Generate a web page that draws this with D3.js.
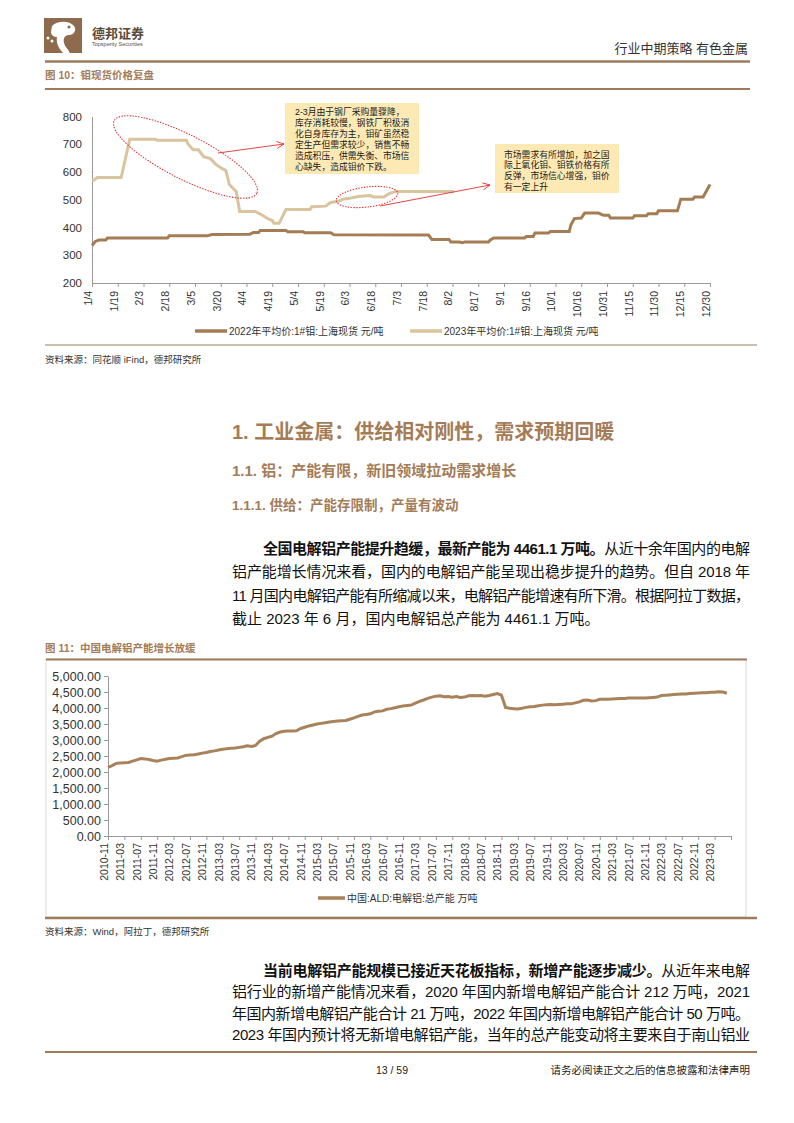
<!DOCTYPE html>
<html><head><meta charset="utf-8">
<script src="https://cdn.jsdelivr.net/npm/d3@7"></script>
<style>body{margin:0;background:#fff} svg{display:block}</style>
</head><body><svg id="page" width="794" height="1123"></svg>
<script>
// ---------- Figure 10 data ----------
const priceTickLabels = ["1/4","1/19","2/3","2/18","3/5","3/20","4/4","4/19","5/4","5/19","6/3","6/18","7/3","7/18","8/2","8/17","9/1","9/16","10/1","10/16","10/31","11/15","11/30","12/15","12/30"];
const priceYTicks = [200,300,400,500,600,700,800];
const price2022 = [
 ["1/4",335],["1/6",350],["1/8",355],["1/12",355],["1/13",362],["2/17",362],["2/18",370],["3/12",370],["3/15",375],
 ["4/6",376],["4/8",382],["4/11",382],["4/12",389],["4/27",389],["4/28",385],["5/7",385],["5/8",381],["5/23",381],
 ["5/25",374],["7/19",373],["7/21",357],["7/31",357],["8/1",348],["8/6",348],["8/8",345],["8/9",348],["8/23",348],
 ["8/24",355],["8/26",362],["9/13",362],["9/14",368],["9/18",368],["9/19",380],["9/27",380],["9/28",386],["10/9",386],
 ["10/10",410],["10/12",432],["10/16",434],["10/18",452],["10/26",452],["10/29",444],["11/1",444],["11/2",434],
 ["11/15",434],["11/16",442],["11/23",442],["11/24",450],["11/29",450],["11/30",460],["12/11",460],["12/13",502],
 ["12/20",502],["12/21",510],["12/26",510],["12/30",555]
];
const price2023 = [
 ["1/4",570],["1/5",570],["1/7",580],["1/21",580],["1/26",718],["2/10",718],["2/11",714],["2/28",714],["3/1",700],
 ["3/4",680],["3/7",680],["3/10",655],["3/14",648],["3/17",628],["3/20",615],["3/23",605],["3/25",555],["3/29",530],
 ["3/31",458],["4/9",458],["4/13",445],["4/17",430],["4/19",425],["4/20",415],["4/23",415],["4/25",440],["4/27",465],
 ["5/11",465],["5/12",475],["5/20",477],["5/23",490],["5/28",495],["5/30",502],["6/3",505],["6/8",512],["6/15",515],
 ["6/17",510],["6/23",510],["6/26",522],["6/30",530],["7/3",530],["8/3",530]
];
const priceSeriesNames = ["2022年平均价:1#钼:上海现货 元/吨","2023年平均价:1#钼:上海现货 元/吨"];

// ---------- Figure 11 data ----------
const capTickLabels = ["2010-11","2011-03","2011-07","2011-11","2012-03","2012-07","2012-11","2013-03","2013-07","2013-11","2014-03","2014-07","2014-11","2015-03","2015-07","2015-11","2016-03","2016-07","2016-11","2017-03","2017-07","2017-11","2018-03","2018-07","2018-11","2019-03","2019-07","2019-11","2020-03","2020-07","2020-11","2021-03","2021-07","2021-11","2022-03","2022-07","2022-11","2023-03"];
const capYTicks = [0,500,1000,1500,2000,2500,3000,3500,4000,4500,5000];
// monthly values from 2010-11 to 2023-06
const capacity = [
 2143,2200,2270,2280,2290,2300,2340,2380,2420,2410,2390,2360,2340,2370,2400,2420,2430,2440,2480,2520,
 2530,2540,2560,2590,2610,2640,2660,2690,2710,2730,2740,2750,2770,2790,2820,2800,2830,2960,3040,3080,
 3120,3200,3250,3270,3280,3280,3290,3360,3400,3440,3470,3500,3520,3540,3560,3580,3590,3600,3610,3650,
 3690,3740,3780,3800,3820,3880,3900,3910,3960,3980,4010,4040,4060,4080,4090,4150,4210,4250,4300,4340,
 4370,4380,4350,4360,4340,4360,4330,4340,4380,4390,4380,4390,4370,4390,4420,4450,4400,4020,3990,3980,
 3970,3990,4020,4040,4050,4070,4090,4100,4110,4100,4110,4120,4130,4130,4160,4190,4240,4250,4220,4230,
 4270,4270,4270,4280,4290,4300,4300,4310,4310,4310,4310,4310,4320,4330,4340,4390,4400,4410,4420,4430,
 4440,4440,4450,4460,4470,4480,4480,4490,4490,4510,4500,4461.1
];
const capSeriesName = "中国:ALD:电解铝:总产能 万吨";

// ---------- page ----------
const svg = d3.select("#page");
const BROWN = "#9E7B5B", HEAD = "#A47C57", LINE22 = "#A57D54", LINE23 = "#D8C49E", CAPC = "#A8825A";
const CJK = "'Liberation Sans','Noto Sans CJK SC',sans-serif";
svg.append("rect").attr("width",794).attr("height",1123).attr("fill","#fff");

function txt(x,y,s,size,opt={}){
  const t = svg.append("text").attr("x",x).attr("y",y).attr("font-size",size)
    .attr("font-family",CJK).attr("fill",opt.fill||"#222").text(s);
  if(opt.bold) t.attr("font-weight","bold");
  if(opt.anchor) t.attr("text-anchor",opt.anchor);
  return t;
}
function rule(y,x1,x2,w,c){svg.append("line").attr("x1",x1).attr("x2",x2).attr("y1",y).attr("y2",y).attr("stroke",c||BROWN).attr("stroke-width",w);}

// header logo
const logo = svg.append("g").attr("transform","translate(44,18)");
logo.append("rect").attr("width",38).attr("height",35).attr("fill","#8E6B4C");
logo.append("path").attr("d","M8,8 C14,2 26,3 30,8 C33,12 30,17 25,17 C21,17 19,20 20,25 C21,29 24,31 26,35 L19,35 C14,30 12,24 13,19 C10,19 7,17 7,14 Z").attr("fill","#fff");
logo.append("circle").attr("cx",4).attr("cy",20).attr("r",1.5).attr("fill","#fff");
logo.append("circle").attr("cx",8).attr("cy",23).attr("r",1.5).attr("fill","#fff");
logo.append("circle").attr("cx",25).attr("cy",9).attr("r",1.6).attr("fill","#8E6B4C");
txt(92,38,"德邦证券",13,{bold:true,fill:"#5a4a3c"});
txt(92,46,"Topsperity Securities",5.5,{fill:"#5a4a3c"});
txt(748,53,"行业中期策略  有色金属",13,{anchor:"end",fill:"#333"});
rule(61.5,45,750,2.5);

// Fig 10 title
txt(45,79,"图 10：钼现货价格复盘",10.5,{bold:true,fill:HEAD});
rule(89,45,750,2);

// ---------- Figure 10 chart ----------
const parseMD = s => d3.timeParse("%Y/%m/%d")("2022/"+s);
const x1 = d3.scaleTime().domain([parseMD("1/4"),parseMD("12/30")]).range([92,710]);
const y1 = d3.scaleLinear().domain([200,800]).range([283,116.5]);
const g1 = svg.append("g");
const xAx1 = g1.append("g").attr("transform","translate(0,283)")
  .call(d3.axisBottom(x1).tickValues(priceTickLabels.map(parseMD)).tickFormat((d,i)=>priceTickLabels[i]).tickSize(4).tickSizeOuter(0));
xAx1.selectAll("text").attr("transform","rotate(-90)").attr("text-anchor","end").attr("x",-8).attr("y",-4).attr("dy","0.32em")
  .attr("font-size",10.5).attr("font-family","'Liberation Sans',sans-serif").attr("fill","#333");
const yAx1 = g1.append("g").attr("transform","translate(92,0)")
  .call(d3.axisLeft(y1).tickValues(priceYTicks).tickSize(0).tickPadding(10).tickSizeOuter(0));
yAx1.selectAll("text").attr("font-size",11.5).attr("font-family","'Liberation Sans',sans-serif").attr("fill","#333");
[xAx1,yAx1].forEach(a=>{a.select(".domain").attr("stroke","#999");a.selectAll("line").attr("stroke","#999");});

const line1 = d3.line().x(d=>x1(parseMD(d[0]))).y(d=>y1(d[1]));
g1.append("path").datum(price2023).attr("d",line1).attr("fill","none").attr("stroke",LINE23).attr("stroke-width",3);
g1.append("path").datum(price2022).attr("d",line1).attr("fill","none").attr("stroke",LINE22).attr("stroke-width",3);

// annotations
const RED = "#E2302E";
g1.append("ellipse").attr("cx",185.5).attr("cy",157).attr("rx",80).attr("ry",22)
  .attr("transform","rotate(27,185.5,157)").attr("fill","none").attr("stroke",RED).attr("stroke-width",1.1).attr("stroke-dasharray","1.4,1.4");
g1.append("ellipse").attr("cx",367).attr("cy",197).attr("rx",31).attr("ry",10)
  .attr("transform","rotate(-7,367,197)").attr("fill","none").attr("stroke",RED).attr("stroke-width",1.1).attr("stroke-dasharray","1.4,1.4");
function arrow(xa,ya,xb,yb){
  const ang = Math.atan2(yb-ya,xb-xa), L=8, a=0.45;
  const p1=[xb-L*Math.cos(ang-a),yb-L*Math.sin(ang-a)], p2=[xb-L*Math.cos(ang+a),yb-L*Math.sin(ang+a)];
  g1.append("path").attr("d",`M${xa},${ya}L${xb},${yb}M${p1}L${xb},${yb}L${p2}`).attr("fill","none").attr("stroke",RED).attr("stroke-width",0.9);
}
arrow(218,153,284,144);
arrow(380,206,490,185);

const box1 = ["2-3月由于钢厂采购量骤降，","库存消耗较慢，钢铁厂积极消","化自身库存为主，钼矿虽然稳","定生产但需求较少，销售不畅","造成积压，供需失衡、市场信","心缺失，造成钼价下跌。"];
const box2 = ["市场需求有所增加，加之国","际上氧化钼、钼铁价格有所","反弹，市场信心增强，钼价","有一定上升"];
g1.append("rect").attr("x",285).attr("y",103).attr("width",134).attr("height",71).attr("fill","#FDE9B3");
box1.forEach((s,i)=>txt(295,115+i*10.9,s,8.8,{fill:"#222"}));
g1.append("rect").attr("x",495).attr("y",144).attr("width",124).attr("height",49).attr("fill","#FDE9B3");
box2.forEach((s,i)=>txt(504,157.5+i*10.7,s,8.8,{fill:"#222"}));

// legend 1
const leg1 = [[195,LINE22,priceSeriesNames[0]],[410,LINE23,priceSeriesNames[1]]];
leg1.forEach(([lx,c,s])=>{
  svg.append("line").attr("x1",lx).attr("x2",lx+32).attr("y1",331).attr("y2",331).attr("stroke",c).attr("stroke-width",3.5);
  txt(lx+34,335,s,10,{fill:"#333"});
});
rule(345,45,757,1.2);
txt(45,363,"资料来源：同花顺 iFind，德邦研究所",9.5,{fill:"#333"});

// ---------- headings & paragraphs ----------
txt(232,439,"1. 工业金属：供给相对刚性，需求预期回暖",20,{bold:true,fill:HEAD});
txt(232,476,"1.1. 铝：产能有限，新旧领域拉动需求增长",15,{bold:true,fill:HEAD});
txt(232,510,"1.1.1. 供给：产能存限制，产量有波动",13.5,{bold:true,fill:HEAD});

function para(lines,y0,lh){
  lines.forEach((ln,i)=>{
    const x = i===0?263:232;
    const t = svg.append("text").attr("x",x).attr("y",y0+i*lh).attr("font-size",15).attr("font-family",CJK).attr("fill","#111");
    ln.parts.forEach(p=>{const ts=t.append("tspan").text(p[0]); if(p[1]) ts.attr("font-weight","bold");});
    if(ln.just) t.attr("textLength",750-x).attr("lengthAdjust","spacing");
  });
}
para([
 {parts:[["全国电解铝产能提升趋缓，最新产能为 4461.1 万吨。",1],["从近十余年国内的电解"]],just:1},
 {parts:[["铝产能增长情况来看，国内的电解铝产能呈现出稳步提升的趋势。但自 2018 年"]],just:1},
 {parts:[["11 月国内电解铝产能有所缩减以来，电解铝产能增速有所下滑。根据阿拉丁数据，"]],just:1},
 {parts:[["截止 2023 年 6 月，国内电解铝总产能为 4461.1 万吨。"]],just:0}
],553.5,23.5);

// Fig 11 title
txt(45,652,"图 11：中国电解铝产能增长放缓",10.5,{bold:true,fill:HEAD});
svg.append("rect").attr("x",46).attr("y",659).attr("width",700).attr("height",258).attr("fill","none").attr("stroke","#D9D9D9");
rule(659.5,46,747,2);

// ---------- Figure 11 chart ----------
const x2 = d3.scaleLinear().domain([0,152]).range([108,731]);
const y2 = d3.scaleLinear().domain([0,5000]).range([836,676]);
const g2 = svg.append("g");
const xAx2 = g2.append("g").attr("transform","translate(0,836)")
  .call(d3.axisBottom(x2).tickValues(d3.range(0,153,4)).tickFormat((d,i)=>capTickLabels[i]||"").tickSize(4).tickSizeOuter(0));
xAx2.selectAll("text").attr("transform","rotate(-90)").attr("text-anchor","end").attr("x",-7).attr("y",-4).attr("dy","0.32em")
  .attr("font-size",10.5).attr("font-family","'Liberation Sans',sans-serif").attr("fill","#333");
const yAx2 = g2.append("g").attr("transform","translate(108,0)")
  .call(d3.axisLeft(y2).tickValues(capYTicks).tickFormat(d3.format(",.2f")).tickSize(4).tickPadding(3).tickSizeOuter(0));
yAx2.selectAll("text").attr("font-size",12.5).attr("font-family","'Liberation Sans',sans-serif").attr("fill","#333");
[xAx2,yAx2].forEach(a=>{a.select(".domain").attr("stroke","#999");a.selectAll("line").attr("stroke","#999");});
g2.append("path").datum(capacity).attr("d",d3.line().x((d,i)=>x2(i)).y(d=>y2(d)))
  .attr("fill","none").attr("stroke",CAPC).attr("stroke-width",3);

svg.append("line").attr("x1",318).attr("x2",345).attr("y1",898).attr("y2",898).attr("stroke",CAPC).attr("stroke-width",3.5);
txt(347,902,capSeriesName,10,{fill:"#333"});
rule(918,45,757,2.5);
txt(45,935,"资料来源：Wind，阿拉丁，德邦研究所",9.5,{fill:"#333"});

para([
 {parts:[["当前电解铝产能规模已接近天花板指标，新增产能逐步减少。",1],["从近年来电解"]],just:1},
 {parts:[["铝行业的新增产能情况来看，2020 年国内新增电解铝产能合计 212 万吨，2021"]],just:1},
 {parts:[["年国内新增电解铝产能合计 21 万吨，2022 年国内新增电解铝产能合计 50 万吨。"]],just:1},
 {parts:[["2023 年国内预计将无新增电解铝产能，当年的总产能变动将主要来自于南山铝业"]],just:1}
],975.5,21.5);

// footer
rule(1052,45,757,2);
txt(392,1074,"13 / 59",10.5,{anchor:"middle",fill:"#222"});
txt(750,1074,"请务必阅读正文之后的信息披露和法律声明",10.5,{anchor:"end",fill:"#222"});
</script></body></html>
